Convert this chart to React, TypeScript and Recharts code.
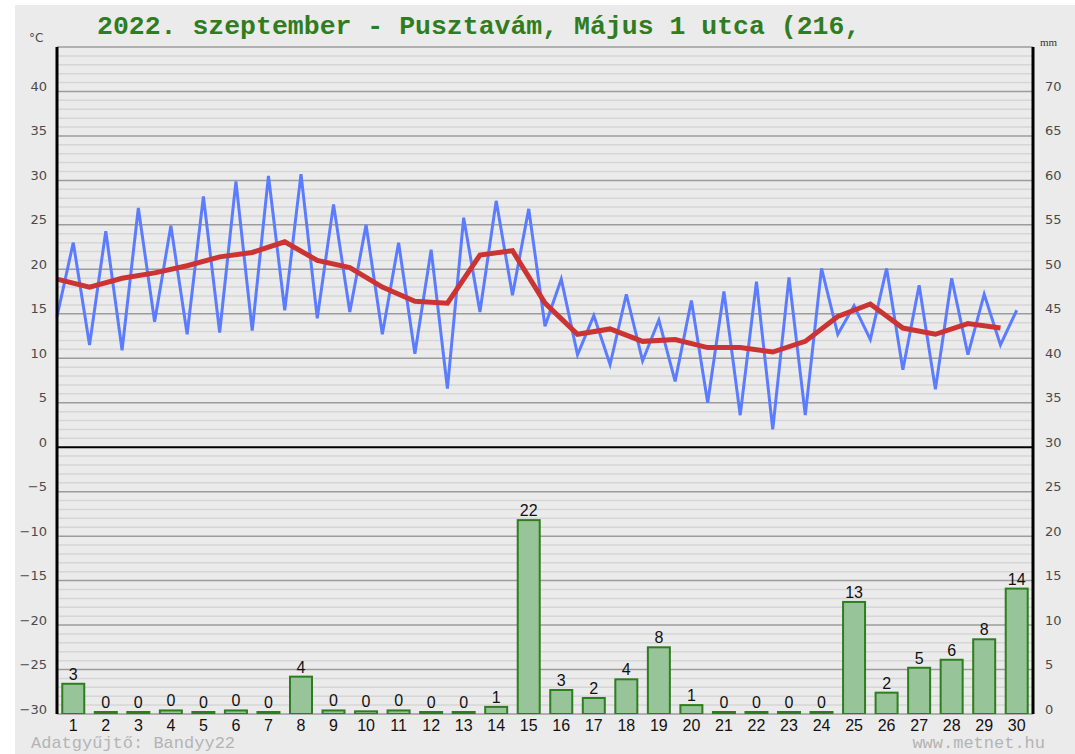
import React from "react"
import { ComposedChart, Bar, Line, XAxis, YAxis, CartesianGrid, ReferenceLine, LabelList } from "recharts"

// napok
const days = [1, 2, 3, 4, 5, 6, 7, 8, 9, 10, 11, 12, 13, 14, 15, 16, 17, 18, 19, 20, 21, 22, 23, 24, 25, 26, 27, 28, 29, 30]

// hőmérséklet (°C): hajnali minimum és délutáni maximum naponta
const tLow = [14.7, 11.5, 10.9, 14.1, 12.7, 12.9, 13.1, 15.4, 14.5, 15.2, 12.7, 10.5, 6.6, 15.2, 17.1, 13.6, 10.4, 9.3, 9.7, 7.4, 5.0, 3.6, 2.0, 3.6, 12.7, 12.1, 8.7, 6.5, 10.4, 11.5]
const tHigh = [23.0, 24.3, 26.9, 24.9, 28.2, 29.9, 30.5, 30.7, 27.3, 25.0, 23.0, 22.2, 25.8, 27.7, 26.8, 18.9, 14.8, 17.2, 14.3, 16.5, 17.5, 18.6, 19.1, 20.1, 15.9, 20.1, 18.2, 19.0, 17.2, 15.4]
// napi középhőmérséklet
const tMean = [18.9, 18.0, 19.0, 19.6, 20.4, 21.4, 21.9, 23.1, 21.0, 20.2, 18.0, 16.4, 16.2, 21.6, 22.1, 16.2, 12.7, 13.3, 11.9, 12.1, 11.2, 11.2, 10.7, 11.9, 14.7, 16.1, 13.4, 12.7, 13.9, 13.4]

// csapadék (mm)
const precip = [3.4, 0, 0, 0.4, 0, 0.4, 0, 4.2, 0.4, 0.3, 0.4, 0, 0, 0.8, 21.8, 2.7, 1.8, 3.9, 7.5, 1.0, 0, 0, 0, 0, 12.6, 2.4, 5.2, 6.1, 8.4, 14.1]

const tempTicks = [-30, -25, -20, -15, -10, -5, 0, 5, 10, 15, 20, 25, 30, 35, 40]
const mmTicks = [0, 5, 10, 15, 20, 25, 30, 35, 40, 45, 50, 55, 60, 65, 70]

const minorGrid = Array.from({ length: 75 }, (_, i) => i - 29).filter((v) => v % 5 !== 0)
const majorGrid = [...tempTicks.filter((v) => v !== 0), 45]

// fél napos sorok: páros = nap eleje (min + átlag), páratlan = nap közepe (max + csapadék)
const data = days.flatMap((d, i) => [
    { x: i, temp: tLow[i], mean: tMean[i] },
    { x: i + 0.5, temp: tHigh[i], rain: precip[i] },
])

const dayTicks = days.map((d) => d - 0.5)

const GRAY = "#ebebeb"
const BAR_W = 22

const LeftTick = (props: any) => {
    const { x, y, payload } = props
    return (
        <text x={x} y={y - 4} textAnchor="end" dominantBaseline="middle" fontSize={13} fontFamily="DejaVu Sans" fill="#4a4a4a">
            {String(payload.value).replace("-", "−")}
        </text>
    )
}

const RightTick = (props: any) => {
    const { x, y, payload } = props
    return (
        <text x={x} y={y - 4} textAnchor="start" dominantBaseline="middle" fontSize={13} fontFamily="DejaVu Sans" fill="#4a4a4a">
            {payload.value}
        </text>
    )
}

// fix szélességű oszlop, a sáv közepére igazítva
const RainBar = (props: any) => {
    const { x, y, width, height } = props
    if (height == null || isNaN(height)) return null
    const cx = x + width / 2
    return <rect x={cx - BAR_W / 2} y={y} width={BAR_W} height={height} fill="#98c49a" stroke="#2e7d1e" strokeWidth={2} />
}

export default function App() {
    return (
        <div style={{ position: "absolute", left: 0, top: 0, width: 1075, height: 754, background: "#fff", overflow: "hidden" }}>
            <div style={{ position: "absolute", left: 15, top: 5, right: 0, bottom: 0, background: GRAY }} />
            <div
                style={{
                    position: "absolute",
                    left: 97,
                    top: 12,
                    fontFamily: "Liberation Mono",
                    fontWeight: "bold",
                    fontSize: 26.5,
                    color: "#2f7d20",
                    whiteSpace: "pre",
                    lineHeight: "30px",
                }}
            >
                2022. szeptember - Pusztavám, Május 1 utca (216,
            </div>
            <div style={{ position: "absolute", left: 29, top: 31, fontFamily: "DejaVu Sans", fontSize: 12, color: "#4a4a4a" }}>°C</div>
            <div style={{ position: "absolute", left: 1040, top: 36, fontFamily: "Liberation Serif", fontSize: 11, color: "#333" }}>mm</div>
            <ComposedChart
                width={1075}
                height={754}
                data={data}
                margin={{ top: 47, right: 0, bottom: 14, left: 15 }}
                style={{ position: "absolute", left: 0, top: 0 }}
            >
                <CartesianGrid yAxisId="temp" vertical={false} horizontalValues={minorGrid} stroke="#d6d6d6" strokeWidth={1.5} />
                <CartesianGrid yAxisId="temp" vertical={false} horizontalValues={majorGrid} stroke="#9c9c9c" strokeWidth={1.5} />
                <XAxis
                    dataKey="x"
                    type="number"
                    domain={[0, 30]}
                    ticks={dayTicks}
                    interval={0}
                    tickFormatter={(v) => `${v + 0.5}`}
                    axisLine={false}
                    tickLine={false}
                    tickSize={0}
                    tickMargin={6}
                    height={26}
                    tick={{ fontSize: 16, fill: "#111", fontFamily: "Liberation Sans" }}
                />
                <YAxis
                    yAxisId="temp"
                    domain={[-30, 45]}
                    ticks={tempTicks}
                    interval={0}
                    width={42}
                    tickSize={0}
                    tickMargin={10}
                    tickLine={false}
                    axisLine={{ stroke: "#000", strokeWidth: 3 }}
                    tick={<LeftTick />}
                    allowDataOverflow
                />
                <YAxis
                    yAxisId="mm"
                    orientation="right"
                    domain={[0, 75]}
                    ticks={mmTicks}
                    interval={0}
                    width={42}
                    tickSize={0}
                    tickMargin={12}
                    tickLine={false}
                    axisLine={{ stroke: "#000", strokeWidth: 3 }}
                    tick={<RightTick />}
                    allowDataOverflow
                />
                <ReferenceLine yAxisId="temp" y={0} stroke="#000" strokeWidth={2} />
                <Bar yAxisId="mm" dataKey="rain" shape={<RainBar />} minPointSize={2} isAnimationActive={false}>
                    <LabelList
                        dataKey="rain"
                        position="top"
                        offset={4}
                        formatter={(v: any) => (v == null ? "" : Math.round(v))}
                        style={{ fontSize: 16, fill: "#111", fontFamily: "Liberation Sans" }}
                    />
                </Bar>
                <Line yAxisId="temp" dataKey="temp" stroke="#5c7cff" strokeWidth={3} dot={false} isAnimationActive={false} />
                <Line yAxisId="temp" dataKey="mean" stroke="#cc3333" strokeWidth={5} dot={false} connectNulls isAnimationActive={false} />
            </ComposedChart>
            <div
                style={{
                    position: "absolute",
                    left: 31,
                    top: 735,
                    fontFamily: "Liberation Mono",
                    fontSize: 17,
                    lineHeight: "17px",
                    color: "#b4b4b4",
                    whiteSpace: "pre",
                }}
            >
                Adatgyűjtő: Bandyy22
            </div>
            <div
                style={{
                    position: "absolute",
                    right: 30,
                    top: 735,
                    fontFamily: "Liberation Mono",
                    fontSize: 17,
                    lineHeight: "17px",
                    color: "#b4b4b4",
                    whiteSpace: "pre",
                }}
            >
                www.metnet.hu
            </div>
        </div>
    )
}
